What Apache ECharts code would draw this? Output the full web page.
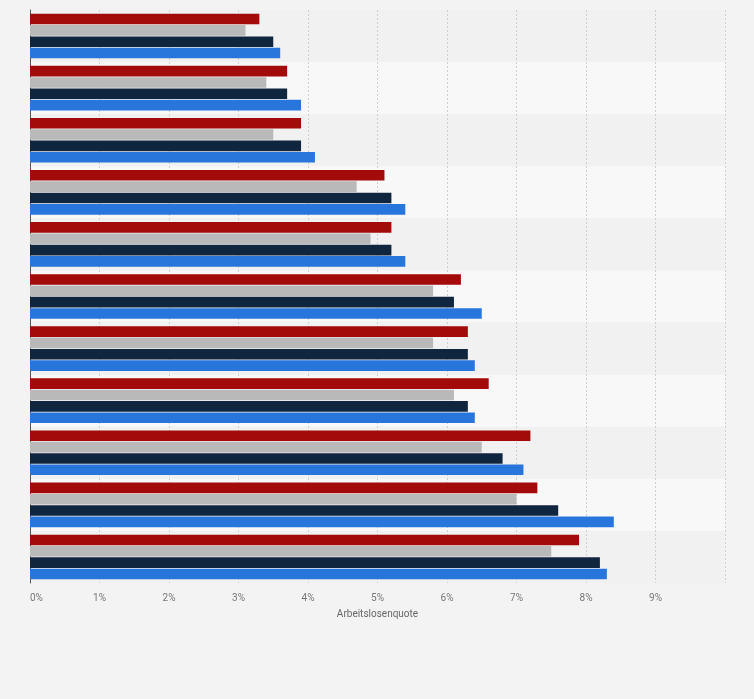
<!DOCTYPE html>
<html>
<head>
<meta charset="utf-8">
<script src="https://cdn.jsdelivr.net/npm/echarts@6/dist/echarts.min.js"></script>
<style>
  html, body {margin: 0; padding: 0; background: #f3f3f3;}
  #chart {width: 754px; height: 699px;}
</style>
</head>
<body>
<div id="chart"></div>
<script>
// category names are not printed in the picture
const categories = ['K1', 'K2', 'K3', 'K4', 'K5', 'K6', 'K7', 'K8', 'K9', 'K10', 'K11']
const seriesRed = [3.3, 3.7, 3.9, 5.1, 5.2, 6.2, 6.3, 6.6, 7.2, 7.3, 7.9]
const seriesGray = [3.1, 3.4, 3.5, 4.7, 4.9, 5.8, 5.8, 6.1, 6.5, 7.0, 7.5]
const seriesNavy = [3.5, 3.7, 3.9, 5.2, 5.2, 6.1, 6.3, 6.3, 6.8, 7.6, 8.2]
const seriesBlue = [3.6, 3.9, 4.1, 5.4, 5.4, 6.5, 6.4, 6.4, 7.1, 8.4, 8.3]
const colors = ['#a30a0a', '#b9b9b9', '#10263e', '#2876dc']

const chart = echarts.init(document.getElementById('chart'))

const bar = (data, i) => ({
  type: 'bar',
  data,
  barWidth: 10.6,
  barGap: '7%',
  itemStyle: {color: colors[i]},
  emphasis: {disabled: true}
})

chart.setOption({
  backgroundColor: '#f3f3f3',
  animation: false,
  textStyle: {fontFamily: 'Roboto, "Liberation Sans", sans-serif'},
  grid: {left: 30, right: 29, top: 10, height: 573, containLabel: false},
  xAxis: {
    type: 'value',
    min: 0,
    max: 10,
    interval: 1,
    name: 'Arbeitslosenquote',
    nameLocation: 'middle',
    nameGap: 26,
    nameTextStyle: {color: '#666', fontSize: 10},
    axisLine: {show: false},
    axisTick: {show: false},
    axisLabel: {
      formatter: '{value}%',
      color: '#777',
      fontSize: 10,
      margin: 10,
      showMaxLabel: false,
      alignMinLabel: 'left'
    },
    splitLine: {lineStyle: {color: '#cfcfcf', type: [2, 2], width: 1}}
  },
  yAxis: {
    type: 'category',
    data: categories,
    inverse: true,
    axisLine: {lineStyle: {color: '#555', width: 1}},
    axisTick: {show: false},
    axisLabel: {show: false},
    splitArea: {show: true, areaStyle: {color: ['#f1f1f1', '#f8f8f8']}}
  },
  series: [seriesRed, seriesGray, seriesNavy, seriesBlue].map(bar)
})
</script>
</body>
</html>
